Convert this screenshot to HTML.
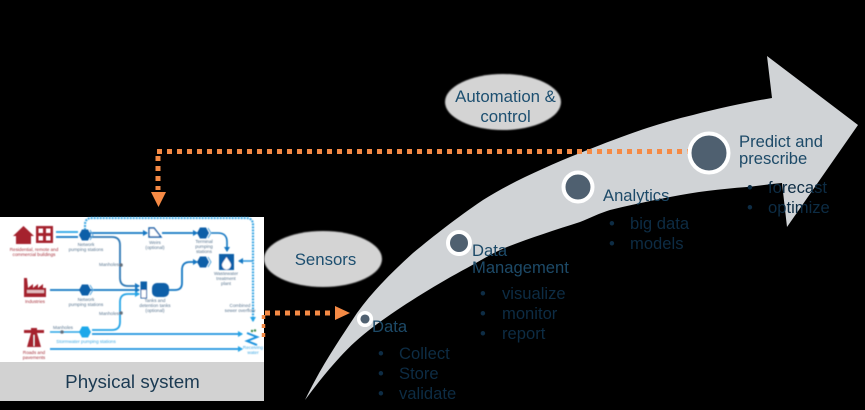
<!DOCTYPE html>
<html><head><meta charset="utf-8"><style>
html,body{margin:0;padding:0;background:#000;width:865px;height:410px;overflow:hidden}
svg{display:block}
text{font-family:"Liberation Sans",sans-serif}
.l{font-size:16.6px;fill:#1d4a68}
.d{font-size:16.6px;fill:#0d2c44}
.t{font-size:4.6px;fill:#5a7690;text-anchor:middle}
.r{font-size:4.6px;fill:#a5303a;text-anchor:middle}
</style></head><body>
<svg width="865" height="410" viewBox="0 0 865 410" xmlns="http://www.w3.org/2000/svg">
<defs>
<filter id="b" x="-5%" y="-5%" width="110%" height="110%"><feGaussianBlur stdDeviation="0.6"/></filter>
<filter id="s" x="-10%" y="-20%" width="120%" height="140%"><feGaussianBlur stdDeviation="0.7"/></filter>
<marker id="a1" markerWidth="6" markerHeight="6" refX="4" refY="3" orient="auto" markerUnits="userSpaceOnUse"><path d="M0 0L5 3L0 6Z" fill="#1477c2"/></marker>
<marker id="a2" markerWidth="6" markerHeight="6" refX="4" refY="3" orient="auto" markerUnits="userSpaceOnUse"><path d="M0 0L5 3L0 6Z" fill="#27a4e6"/></marker>
</defs>
<rect width="865" height="410" fill="#000"/>

<!-- Big arrow -->
<path d="M305 400 C322 365 338 342 357 313 C372 292 392 272 413 253 C435 235 455 219 483 200 C510 183 545 167 580 153 C610 141 650 125 693 115 C720 108 748 102 772 98 L767 56 L858 125 L787 227 L782 183 C770 184 758 186 747 187 C720 189 695 192 670 197 C650 201 630 205 610 210 C600 213 590 218 580 222 C555 230 530 238 507 247 C492 253 480 261 467 268 C435 285 400 307 373 327 C360 337 350 346 340 357 C328 370 316 385 305 400Z" fill="#d0d3d6"/>

<!-- Physical system panel -->
<rect x="0" y="217" width="264" height="145" fill="#fff"/>
<rect x="0" y="362" width="264" height="39" fill="#d2d2d2"/>
<g filter="url(#b)">
<!-- overflow line -->
<path d="M85 230 V225 Q85 218 92 218 H246 Q253 218 253 225 V321" fill="none" stroke="#3fa9e4" stroke-width="2.200" stroke-dasharray="2 1" marker-end="url(#a2)"/>
<path d="M253 261 H239" fill="none" stroke="#2a95dc" stroke-width="1.500" marker-end="url(#a1)"/>
<!-- blue flows -->
<path d="M56 232 H78" stroke="#27a4e6" stroke-width="1.800" fill="none"/>
<path d="M56 237 H78" stroke="#1477c2" stroke-width="1.800" fill="none"/>
<path d="M90 233 H147" stroke="#1477c2" stroke-width="1.800" fill="none" marker-end="url(#a1)"/>
<path d="M162 233 H197" stroke="#1477c2" stroke-width="1.800" fill="none" marker-end="url(#a1)"/>
<path d="M211 233 H218 Q227 233 227 242 V251" stroke="#1477c2" stroke-width="1.600" fill="none" marker-end="url(#a1)"/>
<path d="M90 237 H112 Q120 237 120 245 V278 Q120 286 128 286 H139" stroke="#2d78b5" stroke-width="1.800" fill="none" marker-end="url(#a1)"/>
<path d="M50 290 H80 M90 290 H139" stroke="#1477c2" stroke-width="1.800" fill="none" marker-end="url(#a1)"/>
<path d="M92 330 H112 Q120 330 120 322 V302 Q120 294 128 294 H139" stroke="#27a4e6" stroke-width="1.800" fill="none" marker-end="url(#a2)"/>
<path d="M50 332 H80" stroke="#27a4e6" stroke-width="1.500" fill="none"/>
<path d="M92 334 H242" stroke="#1c93de" stroke-width="1.800" fill="none" marker-end="url(#a2)"/>
<path d="M50 349 H242" stroke="#1c93de" stroke-width="1.800" fill="none" marker-end="url(#a2)"/>
<path d="M168 290 H175 Q182 290 182 283 V270 Q182 262 190 262 H197" stroke="#1477c2" stroke-width="1.800" fill="none" marker-end="url(#a1)"/>
<circle cx="121" cy="265" r="1.800" fill="#64707c"/><circle cx="121" cy="313" r="1.800" fill="#64707c"/><circle cx="62" cy="332" r="1.800" fill="#64707c"/>
<!-- pumps -->
<g fill="#0f5ea8">
<path d="M79 235 L82 229.500 H88 L91 235 L88 240.500 H82Z"/>
<path d="M79 290 L82 284.500 H88 L91 290 L88 295.500 H82Z"/>
<path d="M197 233 L200 227.500 H206 L209 233 L206 238.500 H200Z"/>
<path d="M197 262 L200 256.500 H206 L209 262 L206 267.500 H200Z"/>
</g>
<path d="M79 332 L82 326.500 H88 L91 332 L88 337.500 H82Z" fill="#1fa8ea"/>
<g fill="none" stroke="#5aa8dc" stroke-width="1"><path d="M90 230 L93 235 L90 240"/><path d="M90 285 L93 290 L90 295"/><path d="M208 228 L211 233 L208 238"/><path d="M208 257 L211 262 L208 267"/></g>
<!-- weir -->
<path d="M149 228 H154 L161 237 H149Z" fill="#fff" stroke="#0f5ea8" stroke-width="1.400"/>
<!-- tanks -->
<rect x="141" y="282" width="5.500" height="16" fill="#fff" stroke="#0f5ea8" stroke-width="1"/><rect x="141" y="282" width="5.500" height="8" fill="#0f5ea8"/>
<rect x="152" y="283" width="17" height="14" rx="5" fill="#0f5ea8"/>
<!-- plant -->
<rect x="219" y="254" width="15" height="16" fill="#0f5ea8"/>
<path d="M226.500 257 C229 261 231 263 231 265 A4.500 4.500 0 0 1 222 265 C222 263 224 261 226.500 257Z" fill="#fff"/>
<!-- receiving -->
<path d="M247 333 L257 337 L247 341 L257 345" fill="none" stroke="#1c93de" stroke-width="2"/>
<circle cx="252" cy="331" r="1.200" fill="#3a8a4a"/><circle cx="255" cy="330.500" r="1.200" fill="#3a8a4a"/>
<!-- icons -->
<g fill="#a5232e">
<path d="M13 236 L23.500 226 L34 236 H31 V244 H16 V236Z"/>
<path fill-rule="evenodd" d="M36 226 H53 V243 H36Z M38.500 228.500 V233 H43 V228.500Z M46 228.500 V233 H50.500 V228.500Z M38.500 236 V240.500 H43 V236Z M46 236 V240.500 H50.500 V236Z"/>
<path d="M24 278 H27 L28 288 L33 284 V288 L38 284 V288 L43 284 V288 H46 V297 H24Z"/>
<path d="M24 330 H44 V333 H37 L41 347 H27 L31 333 H24Z"/>
<rect x="31" y="328" width="6" height="3"/>
</g>
<rect x="33.500" y="335" width="1" height="11" fill="#fff"/>
<rect x="27" y="290" width="17" height="3" fill="#fff" opacity=".7"/>
<!-- labels -->
<text class="r" x="34" y="251">Residential, remote and</text><text class="r" x="34" y="256">commercial buildings</text>
<text class="r" x="35" y="303">Industries</text>
<text class="r" x="34" y="354">Roads and</text><text class="r" x="34" y="359">pavements</text>
<text class="t" x="86" y="246">Network</text><text class="t" x="86" y="251">pumping stations</text>
<text class="t" x="86" y="301">Network</text><text class="t" x="86" y="306">pumping stations</text>
<text class="t" x="86" y="343" style="fill:#3fa9e4">Stormwater pumping stations</text>
<text class="t" x="109" y="266">Manholes</text><text class="t" x="109" y="315">Manholes</text><text class="t" x="63" y="329">Manholes</text>
<text class="t" x="155" y="244">Weirs</text><text class="t" x="155" y="249">(optional)</text>
<text class="t" x="204" y="243">Terminal</text><text class="t" x="204" y="248">pumping</text><text class="t" x="204" y="253">stations</text>
<text class="t" x="226" y="275">Wastewater</text><text class="t" x="226" y="280">treatment</text><text class="t" x="226" y="285">plant</text>
<text class="t" x="155" y="302">Tanks and</text><text class="t" x="155" y="307">detention tanks</text><text class="t" x="155" y="312">(optional)</text>
<text class="t" x="240" y="307">Combined</text><text class="t" x="240" y="312">sewer overflow</text>
<text class="t" x="253" y="349" style="fill:#3fa9e4">Receiving</text><text class="t" x="253" y="354" style="fill:#3fa9e4">water</text>
</g>
<text x="132.500" y="388" font-size="18.800" text-anchor="middle" fill="#1b3a52">Physical system</text>

<!-- Orange connectors -->
<g fill="none" stroke="#f58a45" stroke-width="5">
<path d="M157 151.500 H690" stroke-dasharray="5 5"/>
<path d="M158 156 V190" stroke-dasharray="5 5"/>
<path d="M265 313 H331" stroke-dasharray="5 5"/>
<path d="M263.500 315 V342" stroke-dasharray="4 5" stroke-width="3.500"/>
</g>
<path d="M151 192 H166 L158.500 207Z" fill="#f58a45"/>
<path d="M335 306 L350 313 L335 320Z" fill="#f58a45"/>

<!-- Ellipses -->
<ellipse cx="503" cy="102" rx="58" ry="28" fill="#d4d4d4" filter="url(#s)"/>
<ellipse cx="323" cy="259" rx="59" ry="28" fill="#d4d4d4" filter="url(#s)"/>
<text x="505.500" y="102" font-size="16.800" text-anchor="middle" fill="#1d4f70">Automation &amp;</text>
<text x="505.500" y="122" font-size="16.800" text-anchor="middle" fill="#1d4f70">control</text>
<text x="325.500" y="265" font-size="16.800" text-anchor="middle" fill="#1d4f70">Sensors</text>

<!-- Milestones -->
<g fill="#4f6070" stroke="#fff">
<circle cx="365" cy="319" r="6.300" stroke-width="3.500"/>
<circle cx="459" cy="243" r="11" stroke-width="4"/>
<circle cx="578" cy="187" r="14.500" stroke-width="4"/>
<circle cx="709" cy="153" r="19.500" stroke-width="4"/>
</g>

<!-- Labels -->
<text class="l" x="372" y="332">Data</text>
<text class="d" x="378" y="359">•</text><text class="d" x="399" y="359">Collect</text>
<text class="d" x="378" y="379">•</text><text class="d" x="399" y="379">Store</text>
<text class="d" x="378" y="399">•</text><text class="d" x="399" y="399">validate</text>

<text class="l" x="472" y="256">Data</text>
<text class="l" x="472" y="273">Management</text>
<text class="d" x="480" y="299">•</text><text class="d" x="502" y="299">visualize</text>
<text class="d" x="480" y="319">•</text><text class="d" x="502" y="319">monitor</text>
<text class="d" x="480" y="339">•</text><text class="d" x="502" y="339">report</text>

<text class="l" x="603" y="201">Analytics</text>
<text class="d" x="609" y="229">•</text><text class="d" x="630" y="229">big data</text>
<text class="d" x="609" y="249">•</text><text class="d" x="630" y="249">models</text>

<text class="l" x="739" y="147">Predict and</text>
<text class="l" x="739" y="164">prescribe</text>
<text class="d" x="747" y="193">•</text><text class="d" x="768" y="193">forecast</text>
<text class="d" x="747" y="213">•</text><text class="d" x="768" y="213">optimize</text>
</svg>
</body></html>
